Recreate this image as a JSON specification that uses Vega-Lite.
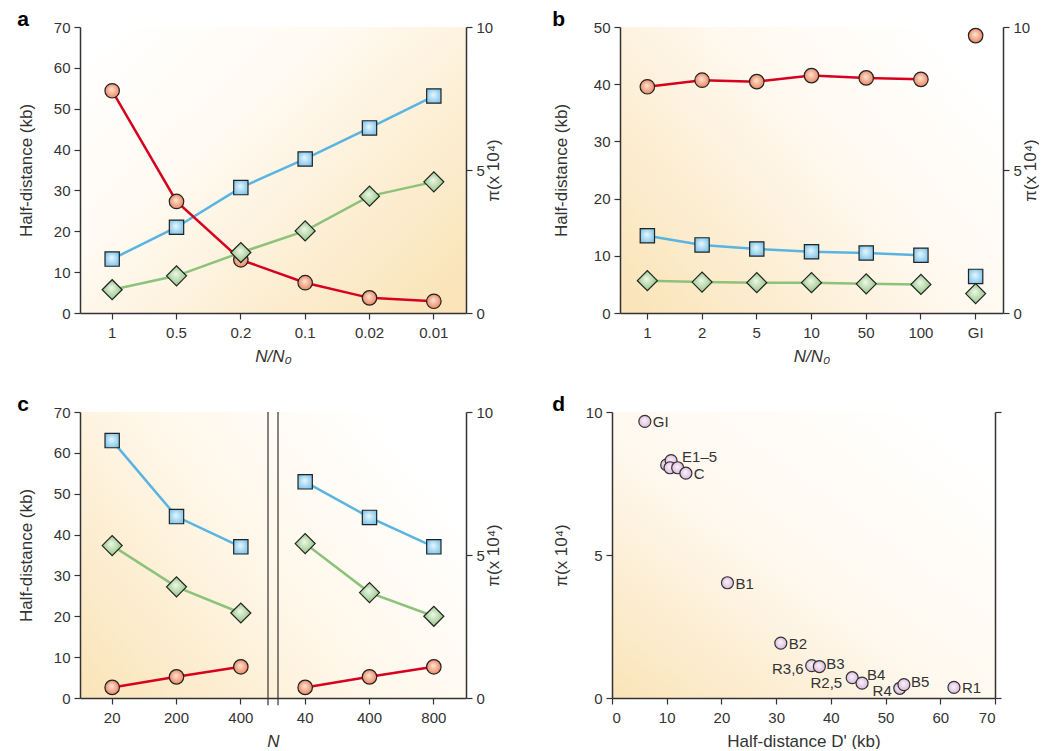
{
  "$schema": "https://vega.github.io/schema/vega-lite/v6.json",
  "padding": {"top": 9, "left": 17, "right": 0, "bottom": 0},
  "background": "white",
  "config": {
    "font": "Liberation Sans",
    "view": {"stroke": null},
    "axis": {"grid": false, "domainColor": "#333", "domainWidth": 1.5, "tickColor": "#333", "tickWidth": 1.2, "tickSize": 6, "labelFontSize": 15, "labelColor": "#333", "labelFont": "Liberation Sans", "titleFont": "Liberation Sans", "titleFontSize": 17, "titleFontWeight": "normal", "titleColor": "#333", "labelPadding": 4, "titlePadding": 18},
    "axisX": {"labelAngle": 0, "labelPadding": 6, "titlePadding": 8},
    "title": {"fontSize": 21, "fontWeight": "bold", "color": "#000", "anchor": "start", "frame": "bounds", "offset": 0}
  },
  "datasets": {
    "a": [
      {"x": "1", "sq": 13.2, "dia": 5.7, "pi": 7.77},
      {"x": "0.5", "sq": 21.0, "dia": 9.1, "pi": 3.9},
      {"x": "0.2", "sq": 30.7, "dia": 14.8, "pi": 1.86},
      {"x": "0.1", "sq": 37.7, "dia": 20.1, "pi": 1.06},
      {"x": "0.02", "sq": 45.3, "dia": 28.6, "pi": 0.53},
      {"x": "0.01", "sq": 53.1, "dia": 32.1, "pi": 0.41}
    ],
    "b": [
      {"x": "1", "sq": 13.5, "dia": 5.65, "pi": 7.91},
      {"x": "2", "sq": 11.9, "dia": 5.4, "pi": 8.14},
      {"x": "5", "sq": 11.2, "dia": 5.3, "pi": 8.09},
      {"x": "10", "sq": 10.7, "dia": 5.3, "pi": 8.3},
      {"x": "50", "sq": 10.5, "dia": 5.1, "pi": 8.22},
      {"x": "100", "sq": 10.1, "dia": 5.0, "pi": 8.17},
      {"x": "GI", "sq": 6.4, "dia": 3.4, "pi": 9.7}
    ],
    "c": [
      {"x": "20a", "g": "A", "sq": 63.0, "dia": 37.3, "pi": 0.37},
      {"x": "200a", "g": "A", "sq": 44.4, "dia": 27.2, "pi": 0.74},
      {"x": "400a", "g": "A", "sq": 37.0, "dia": 20.8, "pi": 1.09},
      {"x": "40b", "g": "B", "sq": 52.9, "dia": 37.8, "pi": 0.37},
      {"x": "400b", "g": "B", "sq": 44.2, "dia": 25.8, "pi": 0.74},
      {"x": "800b", "g": "B", "sq": 37.0, "dia": 20.0, "pi": 1.09}
    ],
    "d": [
      {"name": "GI", "dk": 6.0, "pi": 9.67},
      {"name": "E", "dk": 10.0, "pi": 8.15},
      {"name": "E1–5", "dk": 10.8, "pi": 8.3},
      {"name": "E", "dk": 10.6, "pi": 8.05},
      {"name": "E", "dk": 12.0, "pi": 8.05},
      {"name": "C", "dk": 13.5, "pi": 7.86},
      {"name": "B1", "dk": 21.1, "pi": 4.03},
      {"name": "B2", "dk": 30.85, "pi": 1.92},
      {"name": "R3,6", "dk": 36.5, "pi": 1.13},
      {"name": "B3", "dk": 37.9, "pi": 1.1},
      {"name": "R2,5", "dk": 43.9, "pi": 0.71},
      {"name": "B4", "dk": 45.7, "pi": 0.52},
      {"name": "R4", "dk": 52.6, "pi": 0.34},
      {"name": "B5", "dk": 53.35, "pi": 0.47},
      {"name": "R1", "dk": 62.5, "pi": 0.37}
    ]
  },
  "vconcat": [
    {
      "spacing": 50,
      "hconcat": [
        {
          "width": 386, "height": 286,
          "title": {"text": "a", "dy": 14},
          "view": {"fill": {"gradient": "linear", "x1": 0, "y1": 0.1, "x2": 1, "y2": 0.9, "stops": [{"offset": 0, "color": "#ffffff"}, {"offset": 0.35, "color": "#fffaf2"}, {"offset": 1, "color": "#fae4b8"}]}},
          "data": {"name": "a"},
          "encoding": {"x": {"field": "x", "type": "nominal", "scale": {"type": "band", "domain": ["1", "0.5", "0.2", "0.1", "0.02", "0.01"], "paddingInner": 0, "paddingOuter": 0}, "axis": {"title": "N/N₀", "titleFontStyle": "italic"}}},
          "layer": [
            {"mark": {"type": "line", "color": "#5ab4e2", "strokeWidth": 2.5}, "encoding": {"y": {"field": "sq", "type": "quantitative", "scale": {"domain": [0, 70], "nice": false}, "axis": {"title": "Half-distance (kb)", "values": [0, 10, 20, 30, 40, 50, 60, 70]}}}},
            {"mark": {"type": "line", "color": "#8dc27a", "strokeWidth": 2.5}, "encoding": {"y": {"field": "dia", "type": "quantitative", "scale": {"domain": [0, 70], "nice": false}, "axis": null}}},
            {"mark": {"type": "line", "color": "#d6001f", "strokeWidth": 2.5}, "encoding": {"y": {"field": "pi", "type": "quantitative", "scale": {"domain": [0, 10], "nice": false}, "axis": {"orient": "right", "title": "π(x 10⁴)", "values": [0, 5, 10], "titleAngle": 270, "titlePadding": 10}}}},
            {"mark": {"type": "point", "shape": "square", "filled": true, "opacity": 1, "size": 205, "stroke": "#222", "strokeWidth": 1.2, "fill": {"gradient": "radial", "x1": 0.45, "y1": 0.4, "r1": 0, "x2": 0.5, "y2": 0.5, "r2": 0.6, "stops": [{"offset": 0, "color": "#eaf7fd"}, {"offset": 1, "color": "#78c2ea"}]}}, "encoding": {"y": {"field": "sq", "type": "quantitative", "scale": {"domain": [0, 70], "nice": false}, "axis": null}}},
            {"mark": {"type": "point", "shape": "circle", "filled": true, "opacity": 1, "size": 210, "stroke": "#222", "strokeWidth": 1.2, "fill": {"gradient": "radial", "x1": 0.45, "y1": 0.4, "r1": 0, "x2": 0.5, "y2": 0.5, "r2": 0.5, "stops": [{"offset": 0, "color": "#fde6d8"}, {"offset": 1, "color": "#ec8862"}]}}, "encoding": {"y": {"field": "pi", "type": "quantitative", "scale": {"domain": [0, 10], "nice": false}, "axis": null}}},
            {"mark": {"type": "point", "shape": "diamond", "filled": true, "opacity": 1, "size": 400, "stroke": "#222", "strokeWidth": 1.2, "fill": {"gradient": "radial", "x1": 0.45, "y1": 0.4, "r1": 0, "x2": 0.5, "y2": 0.5, "r2": 0.5, "stops": [{"offset": 0, "color": "#f0f8ea"}, {"offset": 1, "color": "#94c584"}]}}, "encoding": {"y": {"field": "dia", "type": "quantitative", "scale": {"domain": [0, 70], "nice": false}, "axis": null}}}
          ],
          "resolve": {"scale": {"y": "independent"}}
        },
        {
          "width": 383, "height": 286,
          "title": {"text": "b", "dy": 14},
          "view": {"fill": {"gradient": "linear", "x1": 0, "y1": 0.95, "x2": 1, "y2": 0.3, "stops": [{"offset": 0, "color": "#fae4b8"}, {"offset": 0.6, "color": "#fff8ee"}, {"offset": 1, "color": "#ffffff"}]}},
          "data": {"name": "b"},
          "encoding": {"x": {"field": "x", "type": "nominal", "scale": {"type": "band", "domain": ["1", "2", "5", "10", "50", "100", "GI"], "paddingInner": 0, "paddingOuter": 0}, "axis": {"title": "N/N₀", "titleFontStyle": "italic"}}},
          "layer": [
            {"transform": [{"filter": "datum.x != 'GI'"}], "mark": {"type": "line", "color": "#5ab4e2", "strokeWidth": 2.5}, "encoding": {"y": {"field": "sq", "type": "quantitative", "scale": {"domain": [0, 50], "nice": false}, "axis": {"title": "Half-distance (kb)", "values": [0, 10, 20, 30, 40, 50], "titlePadding": 23}}}},
            {"transform": [{"filter": "datum.x != 'GI'"}], "mark": {"type": "line", "color": "#8dc27a", "strokeWidth": 2.5}, "encoding": {"y": {"field": "dia", "type": "quantitative", "scale": {"domain": [0, 50], "nice": false}, "axis": null}}},
            {"transform": [{"filter": "datum.x != 'GI'"}], "mark": {"type": "line", "color": "#d6001f", "strokeWidth": 2.5}, "encoding": {"y": {"field": "pi", "type": "quantitative", "scale": {"domain": [0, 10], "nice": false}, "axis": {"orient": "right", "title": "π(x 10⁴)", "values": [0, 5, 10], "titleAngle": 270, "titlePadding": 10}}}},
            {"mark": {"type": "point", "shape": "square", "filled": true, "opacity": 1, "size": 205, "stroke": "#222", "strokeWidth": 1.2, "fill": {"gradient": "radial", "x1": 0.45, "y1": 0.4, "r1": 0, "x2": 0.5, "y2": 0.5, "r2": 0.6, "stops": [{"offset": 0, "color": "#eaf7fd"}, {"offset": 1, "color": "#78c2ea"}]}}, "encoding": {"y": {"field": "sq", "type": "quantitative", "scale": {"domain": [0, 50], "nice": false}, "axis": null}}},
            {"mark": {"type": "point", "shape": "circle", "filled": true, "opacity": 1, "size": 210, "stroke": "#222", "strokeWidth": 1.2, "fill": {"gradient": "radial", "x1": 0.45, "y1": 0.4, "r1": 0, "x2": 0.5, "y2": 0.5, "r2": 0.5, "stops": [{"offset": 0, "color": "#fde6d8"}, {"offset": 1, "color": "#ec8862"}]}}, "encoding": {"y": {"field": "pi", "type": "quantitative", "scale": {"domain": [0, 10], "nice": false}, "axis": null}}},
            {"mark": {"type": "point", "shape": "diamond", "filled": true, "opacity": 1, "size": 400, "stroke": "#222", "strokeWidth": 1.2, "fill": {"gradient": "radial", "x1": 0.45, "y1": 0.4, "r1": 0, "x2": 0.5, "y2": 0.5, "r2": 0.5, "stops": [{"offset": 0, "color": "#f0f8ea"}, {"offset": 1, "color": "#94c584"}]}}, "encoding": {"y": {"field": "dia", "type": "quantitative", "scale": {"domain": [0, 50], "nice": false}, "axis": null}}}
          ],
          "resolve": {"scale": {"y": "independent"}}
        }
      ]
    },
    {
      "spacing": 50,
      "hconcat": [
        {
          "width": 386, "height": 286,
          "title": {"text": "c", "dy": 14},
          "view": {"fill": {"gradient": "linear", "x1": 0, "y1": 1, "x2": 1, "y2": 0.4, "stops": [{"offset": 0, "color": "#fae4b8"}, {"offset": 0.55, "color": "#fff7e9"}, {"offset": 1, "color": "#ffffff"}]}},
          "data": {"name": "c"},
          "encoding": {"x": {"field": "x", "type": "nominal", "scale": {"type": "band", "domain": ["20a", "200a", "400a", "40b", "400b", "800b"], "paddingInner": 0, "paddingOuter": 0}, "axis": {"title": "N", "titleFontStyle": "italic", "labelExpr": "slice(datum.label, 0, -1)"}}},
          "layer": [
            {"data": {"values": [{}]}, "mark": {"type": "rule", "color": "#333", "strokeWidth": 1.2, "xOffset": -5}, "encoding": {"x": {"datum": "400a", "type": "nominal", "bandPosition": 1, "axis": {"title": "N", "titleFontStyle": "italic", "labelExpr": "slice(datum.label, 0, -1)"}}, "y": {"datum": 70, "type": "quantitative", "scale": {"domain": [0, 70], "nice": false}, "axis": null}, "y2": {"datum": -1.8}}},
            {"data": {"values": [{}]}, "mark": {"type": "rule", "color": "#333", "strokeWidth": 1.2, "xOffset": 5}, "encoding": {"x": {"datum": "400a", "type": "nominal", "bandPosition": 1, "axis": {"title": "N", "titleFontStyle": "italic", "labelExpr": "slice(datum.label, 0, -1)"}}, "y": {"datum": 70, "type": "quantitative", "scale": {"domain": [0, 70], "nice": false}, "axis": null}, "y2": {"datum": -1.8}}},
            {"mark": {"type": "line", "color": "#5ab4e2", "strokeWidth": 2.5}, "encoding": {"detail": {"field": "g"}, "y": {"field": "sq", "type": "quantitative", "scale": {"domain": [0, 70], "nice": false}, "axis": {"title": "Half-distance (kb)", "values": [0, 10, 20, 30, 40, 50, 60, 70]}}}},
            {"mark": {"type": "line", "color": "#8dc27a", "strokeWidth": 2.5}, "encoding": {"detail": {"field": "g"}, "y": {"field": "dia", "type": "quantitative", "scale": {"domain": [0, 70], "nice": false}, "axis": null}}},
            {"mark": {"type": "line", "color": "#d6001f", "strokeWidth": 2.5}, "encoding": {"detail": {"field": "g"}, "y": {"field": "pi", "type": "quantitative", "scale": {"domain": [0, 10], "nice": false}, "axis": {"orient": "right", "title": "π(x 10⁴)", "values": [0, 5, 10], "titleAngle": 270, "titlePadding": 10}}}},
            {"mark": {"type": "point", "shape": "square", "filled": true, "opacity": 1, "size": 205, "stroke": "#222", "strokeWidth": 1.2, "fill": {"gradient": "radial", "x1": 0.45, "y1": 0.4, "r1": 0, "x2": 0.5, "y2": 0.5, "r2": 0.6, "stops": [{"offset": 0, "color": "#eaf7fd"}, {"offset": 1, "color": "#78c2ea"}]}}, "encoding": {"y": {"field": "sq", "type": "quantitative", "scale": {"domain": [0, 70], "nice": false}, "axis": null}}},
            {"mark": {"type": "point", "shape": "circle", "filled": true, "opacity": 1, "size": 210, "stroke": "#222", "strokeWidth": 1.2, "fill": {"gradient": "radial", "x1": 0.45, "y1": 0.4, "r1": 0, "x2": 0.5, "y2": 0.5, "r2": 0.5, "stops": [{"offset": 0, "color": "#fde6d8"}, {"offset": 1, "color": "#ec8862"}]}}, "encoding": {"y": {"field": "pi", "type": "quantitative", "scale": {"domain": [0, 10], "nice": false}, "axis": null}}},
            {"mark": {"type": "point", "shape": "diamond", "filled": true, "opacity": 1, "size": 400, "stroke": "#222", "strokeWidth": 1.2, "fill": {"gradient": "radial", "x1": 0.45, "y1": 0.4, "r1": 0, "x2": 0.5, "y2": 0.5, "r2": 0.5, "stops": [{"offset": 0, "color": "#f0f8ea"}, {"offset": 1, "color": "#94c584"}]}}, "encoding": {"y": {"field": "dia", "type": "quantitative", "scale": {"domain": [0, 70], "nice": false}, "axis": null}}}
          ],
          "resolve": {"scale": {"y": "independent"}}
        },
        {
          "width": 383, "height": 286,
          "title": {"text": "d", "dy": 14},
          "view": {"fill": {"gradient": "linear", "x1": 0, "y1": 1, "x2": 0.9, "y2": 0.1, "stops": [{"offset": 0, "color": "#fae4b8"}, {"offset": 0.5, "color": "#fff8ee"}, {"offset": 1, "color": "#ffffff"}]}},
          "data": {"name": "d"},
          "encoding": {"x": {"field": "dk", "type": "quantitative", "scale": {"domain": [0, 70], "nice": false}, "axis": {"title": "Half-distance D' (kb)", "values": [0, 10, 20, 30, 40, 50, 60, 70]}}},
          "layer": [
            {"mark": {"type": "point", "shape": "circle", "filled": true, "opacity": 1, "size": 144, "stroke": "#333", "strokeWidth": 1.2, "fill": {"gradient": "radial", "x1": 0.45, "y1": 0.4, "r1": 0, "x2": 0.5, "y2": 0.5, "r2": 0.5, "stops": [{"offset": 0, "color": "#fbf3fb"}, {"offset": 1, "color": "#dcbcdc"}]}}, "encoding": {"y": {"field": "pi", "type": "quantitative", "scale": {"domain": [0, 10], "nice": false}, "axis": {"title": "π(x 10⁴)", "values": [0, 5, 10], "titlePadding": 15}}}},
            {"transform": [{"filter": {"field": "name", "oneOf": ["GI", "C", "B1", "B2", "R1"]}}], "mark": {"type": "text", "align": "left", "baseline": "middle", "dx": 8, "dy": 1, "fontSize": 15, "color": "#333"}, "encoding": {"text": {"field": "name"}, "y": {"field": "pi", "type": "quantitative", "scale": {"domain": [0, 10], "nice": false}, "axis": {"orient": "right", "values": [0, 10], "labels": false, "title": null}}}},
            {"transform": [{"filter": {"field": "name", "oneOf": ["B3", "B5"]}}], "mark": {"type": "text", "align": "left", "baseline": "middle", "dx": 7, "dy": -3, "fontSize": 15, "color": "#333"}, "encoding": {"text": {"field": "name"}, "y": {"field": "pi", "type": "quantitative", "scale": {"domain": [0, 10], "nice": false}, "axis": null}}},
            {"transform": [{"filter": {"field": "name", "equal": "B4"}}], "mark": {"type": "text", "align": "left", "baseline": "middle", "dx": 5, "dy": -8, "fontSize": 15, "color": "#333"}, "encoding": {"text": {"field": "name"}, "y": {"field": "pi", "type": "quantitative", "scale": {"domain": [0, 10], "nice": false}, "axis": null}}},
            {"transform": [{"filter": {"field": "name", "oneOf": ["R3,6", "R4"]}}], "mark": {"type": "text", "align": "right", "baseline": "middle", "dx": -8, "dy": 3, "fontSize": 15, "color": "#333"}, "encoding": {"text": {"field": "name"}, "y": {"field": "pi", "type": "quantitative", "scale": {"domain": [0, 10], "nice": false}, "axis": null}}},
            {"transform": [{"filter": {"field": "name", "equal": "R2,5"}}], "mark": {"type": "text", "align": "right", "baseline": "middle", "dx": -10, "dy": 5, "fontSize": 15, "color": "#333"}, "encoding": {"text": {"field": "name"}, "y": {"field": "pi", "type": "quantitative", "scale": {"domain": [0, 10], "nice": false}, "axis": null}}},
            {"transform": [{"filter": {"field": "name", "equal": "E1–5"}}], "mark": {"type": "text", "align": "left", "baseline": "middle", "dx": 11, "dy": -4, "fontSize": 15, "color": "#333"}, "encoding": {"text": {"field": "name"}, "y": {"field": "pi", "type": "quantitative", "scale": {"domain": [0, 10], "nice": false}, "axis": null}}}
          ],
          "resolve": {"axis": {"y": "independent"}}
        }
      ]
    }
  ],
  "spacing": 30
}
